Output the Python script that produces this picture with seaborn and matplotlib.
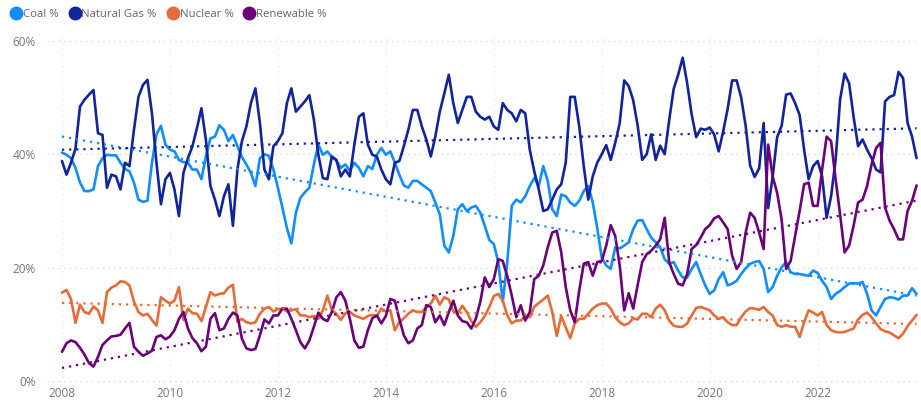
import numpy as np
import pandas as pd
import matplotlib
matplotlib.use("Agg")
import matplotlib.pyplot as plt
from matplotlib.lines import Line2D
import seaborn as sns

# ---- data (monthly, Jan 2008 .. Nov 2023), percent ----
series_names = ["Coal %", "Natural Gas %", "Nuclear %", "Renewable %"]
start_year = 2008

coal = [
    40.3, 39.9, 39.3, 37.6, 35.0, 33.5, 33.5, 33.8, 37.9, 39.3, 39.9, 39.8, 39.8, 38.5, 37.4, 37.0, 35.0, 32.0, 31.6, 31.8,
    38.5, 43.5, 45.0, 41.7, 40.8, 40.5, 39.0, 38.6, 38.5, 37.3, 37.3, 35.6, 39.6, 42.8, 43.1, 45.1, 44.3, 42.3, 43.4, 41.4,
    39.5, 38.2, 36.7, 34.4, 39.3, 40.0, 39.7, 37.3, 34.1, 30.6, 27.0, 24.3, 29.7, 32.3, 33.3, 34.1, 38.2, 41.7, 39.9, 40.5,
    39.5, 38.9, 37.6, 38.2, 37.1, 38.5, 37.6, 36.1, 37.9, 37.4, 39.9, 41.1, 39.9, 40.5, 38.5, 36.4, 34.5, 34.1, 35.3, 35.3,
    34.7, 34.1, 33.5, 31.5, 29.4, 23.9, 22.7, 25.6, 30.3, 31.2, 30.0, 30.6, 30.9, 29.7, 27.4, 24.9, 24.2, 21.0, 14.0, 21.0,
    30.9, 32.0, 31.5, 32.6, 34.4, 35.8, 34.4, 37.9, 35.3, 30.3, 29.1, 32.9, 32.6, 31.5, 30.9, 31.8, 33.5, 34.4, 31.5, 27.0,
    21.8, 20.4, 19.8, 23.6, 23.4, 23.9, 24.5, 26.8, 28.3, 28.4, 26.8, 25.3, 24.5, 23.6, 21.5, 20.7, 21.0, 19.5, 18.3, 18.3,
    19.8, 21.0, 18.9, 16.9, 15.4, 16.0, 18.0, 19.2, 16.9, 17.2, 17.7, 18.9, 19.9, 20.7, 21.0, 21.2, 19.8, 15.7, 16.6, 18.6,
    20.1, 21.0, 19.2, 18.9, 18.9, 18.7, 18.6, 19.5, 19.1, 17.7, 16.6, 14.5, 15.4, 15.9, 16.6, 17.2, 17.3, 17.2, 17.5, 15.4,
    12.5, 11.6, 13.1, 14.5, 14.8, 14.7, 14.4, 15.1, 15.1, 16.4, 15.4,
]

natural_gas = [
    38.8, 36.4, 38.5, 41.0, 48.4, 49.6, 50.5, 51.3, 43.7, 43.4, 34.1, 36.4, 36.1, 33.8, 38.5, 37.9, 44.3, 50.1, 52.2, 53.1,
    47.2, 38.5, 31.2, 35.6, 36.7, 33.8, 29.1, 36.7, 39.3, 41.4, 44.6, 48.1, 42.5, 34.4, 32.0, 29.1, 32.6, 34.7, 27.4, 37.3,
    42.3, 44.9, 49.0, 51.6, 45.5, 37.3, 35.6, 41.4, 42.3, 43.7, 49.0, 51.6, 47.5, 48.4, 49.3, 50.4, 46.1, 39.9, 35.8, 35.6,
    39.6, 39.0, 36.1, 37.3, 36.1, 41.7, 46.6, 47.2, 41.7, 39.9, 39.6, 37.3, 35.6, 34.7, 38.5, 38.8, 41.4, 44.3, 47.8, 47.8,
    44.9, 42.6, 39.6, 43.1, 47.5, 50.7, 54.0, 49.0, 45.5, 47.8, 50.1, 50.1, 47.5, 46.6, 46.1, 46.6, 44.9, 44.3, 49.0, 47.8,
    47.2, 45.8, 47.8, 47.2, 40.8, 37.0, 33.8, 30.0, 30.3, 32.0, 33.8, 34.7, 38.5, 50.1, 50.1, 44.9, 37.9, 32.0, 36.1, 38.5,
    40.0, 41.6, 39.0, 42.0, 45.5, 53.0, 52.0, 49.5, 45.0, 39.0, 40.0, 43.5, 39.0, 41.5, 40.0, 46.0, 51.5, 54.0, 57.0, 52.5,
    47.0, 43.0, 44.5, 44.3, 44.7, 43.5, 40.5, 44.0, 48.0, 53.0, 53.0, 50.0, 45.0, 38.0, 36.0, 37.5, 45.5, 30.5, 36.0, 43.0,
    45.0, 50.5, 50.7, 49.0, 46.9, 40.8, 35.6, 37.9, 38.8, 36.1, 28.8, 32.6, 39.0, 49.6, 54.2, 52.5, 46.6, 41.4, 42.6, 40.8,
    39.3, 37.3, 36.8, 49.3, 50.1, 50.4, 54.5, 53.4, 45.5, 43.1, 39.3,
]

nuclear = [
    15.6, 16.1, 14.5, 10.3, 13.5, 12.2, 11.9, 13.2, 12.5, 10.3, 15.7, 16.5, 16.9, 17.6, 17.5, 16.9, 14.0, 12.2, 11.6, 11.9,
    10.8, 9.8, 14.8, 14.2, 13.7, 14.2, 16.6, 10.8, 12.8, 12.0, 11.9, 10.6, 13.1, 15.7, 15.1, 15.4, 15.5, 16.5, 17.0, 10.5,
    11.0, 10.4, 10.2, 10.4, 11.9, 12.8, 13.1, 12.3, 12.7, 12.8, 12.3, 12.5, 12.7, 11.6, 11.6, 11.3, 11.5, 11.0, 12.5, 15.1,
    12.5, 11.9, 10.8, 12.0, 12.2, 11.6, 11.3, 11.0, 11.5, 11.7, 11.5, 12.8, 12.3, 12.5, 9.0, 10.4, 11.1, 11.9, 12.5, 12.2,
    12.2, 13.1, 13.7, 15.1, 13.5, 14.8, 14.4, 12.3, 12.0, 13.3, 12.2, 10.6, 9.6, 10.4, 11.5, 13.1, 15.0, 15.4, 14.2, 11.6,
    10.2, 10.7, 10.7, 11.5, 11.3, 13.1, 13.8, 14.4, 15.1, 12.2, 8.0, 11.5, 9.5, 7.6, 10.2, 11.0, 11.0, 11.9, 12.8, 13.4,
    13.7, 13.7, 12.8, 11.3, 10.4, 9.9, 10.2, 11.1, 10.9, 11.9, 11.9, 11.3, 12.8, 13.5, 12.5, 10.7, 9.8, 9.6, 9.6, 10.2,
    11.6, 12.9, 13.1, 12.8, 12.5, 11.6, 11.0, 11.3, 10.4, 9.9, 9.9, 11.3, 12.3, 12.9, 12.8, 12.6, 13.1, 12.2, 11.6, 9.9,
    9.6, 9.9, 9.6, 9.6, 7.8, 10.4, 12.5, 12.1, 11.6, 12.2, 9.9, 9.0, 8.7, 8.6, 8.7, 9.0, 9.3, 10.9, 11.7, 12.1,
    11.3, 10.2, 9.2, 8.8, 8.6, 8.1, 7.6, 8.4, 9.7, 10.7, 11.7,
]

renewable = [
    5.2, 6.7, 7.2, 6.9, 5.9, 4.7, 3.2, 2.6, 4.3, 6.4, 7.2, 7.9, 8.0, 8.2, 9.3, 10.3, 6.1, 5.2, 4.5, 4.9,
    5.4, 7.8, 8.1, 7.4, 7.9, 9.0, 11.0, 12.2, 9.3, 7.6, 6.7, 5.3, 6.1, 11.0, 12.0, 9.0, 9.3, 11.0, 12.1, 11.6,
    7.5, 5.8, 5.5, 5.7, 8.1, 10.9, 10.2, 11.6, 11.6, 12.8, 12.8, 11.0, 9.0, 6.9, 5.8, 7.2, 9.6, 12.1, 11.0, 10.6,
    12.2, 14.8, 15.7, 14.2, 11.0, 7.2, 5.9, 6.1, 9.0, 11.1, 11.6, 10.2, 11.5, 14.5, 14.2, 11.0, 8.1, 6.7, 7.2, 9.3,
    9.9, 13.4, 13.1, 10.4, 11.6, 9.9, 12.2, 14.2, 11.6, 10.6, 10.4, 9.3, 11.0, 14.0, 18.3, 16.6, 18.0, 21.5, 21.2, 18.5,
    15.1, 11.3, 13.4, 10.7, 12.2, 18.0, 18.6, 20.4, 23.6, 26.2, 26.5, 22.7, 16.6, 12.5, 10.4, 16.0, 20.7, 21.0, 18.6, 21.0,
    21.2, 23.9, 27.5, 25.6, 20.4, 12.5, 15.5, 12.8, 17.0, 21.0, 22.4, 23.0, 23.9, 25.0, 28.8, 21.0, 18.9, 17.2, 16.9, 18.9,
    23.3, 24.0, 25.3, 26.8, 27.5, 28.7, 29.1, 28.0, 26.8, 22.1, 19.8, 21.0, 26.2, 29.7, 28.8, 26.2, 23.3, 41.7, 36.1, 33.2,
    28.5, 19.8, 21.2, 25.6, 30.0, 34.7, 35.0, 30.9, 30.9, 37.3, 43.1, 42.3, 35.6, 29.4, 22.7, 23.9, 27.4, 31.5, 32.0, 34.4,
    38.2, 41.1, 42.0, 30.6, 28.3, 26.8, 25.0, 25.0, 30.0, 31.8, 34.5,
]

x_ticks = [2008, 2010, 2012, 2014, 2016, 2018, 2020, 2022]
y_ticks = [0, 20, 40, 60]
y_tick_labels = ["0%", "20%", "40%", "60%"]

colors = {"Coal %": "#118DFF", "Natural Gas %": "#12239E",
          "Nuclear %": "#E66C37", "Renewable %": "#6B007B"}

# ---- build long-form table ----
values = {"Coal %": coal, "Natural Gas %": natural_gas,
          "Nuclear %": nuclear, "Renewable %": renewable}
frames = []
for name in series_names:
    v = values[name]
    yr = start_year + np.arange(len(v)) / 12.0
    frames.append(pd.DataFrame({"year": yr, "value": v, "series": name}))
df = pd.concat(frames, ignore_index=True)

sns.set_theme(style="white")
plt.rcParams["font.family"] = ["Open Sans", "DejaVu Sans"]

fig = plt.figure(figsize=(9.21, 4.05), dpi=100)
ax = fig.add_axes([47 / 921, (405 - 383) / 405, (918 - 47) / 921, (383 - 35) / 405])

sns.lineplot(data=df, x="year", y="value", hue="series", hue_order=series_names,
             palette=colors, linewidth=1.9, ax=ax, legend=False, zorder=3)

for name in series_names:
    sub = df[df["series"] == name]
    sns.regplot(data=sub, x="year", y="value", scatter=False, ci=None, ax=ax,
                line_kws=dict(color=colors[name], linestyle=(0, (1, 2.2)),
                              linewidth=1.6, zorder=4))

ax.set_xlim(2007.722, 2023.86)
ax.set_ylim(-0.3, 61)
ax.set_xticks(x_ticks)
ax.set_xticklabels([str(t) for t in x_ticks])
ax.set_yticks(y_ticks)
ax.set_yticklabels(y_tick_labels)
ax.set_xlabel("")
ax.set_ylabel("")
for s in ax.spines.values():
    s.set_visible(False)
ax.tick_params(axis="both", length=0, colors="#777777", labelsize=8.5)
ax.tick_params(axis="y", pad=8)
ax.tick_params(axis="x", pad=3)
ax.grid(True, axis="y", color="#D8D8D8", linestyle=(0, (1, 3)), linewidth=1.0)
ax.grid(True, axis="x", color="#E6E6E6", linestyle=(0, (1, 3)), linewidth=1.0)
ax.set_axisbelow(True)

handles = [Line2D([0], [0], marker="o", color="none", markerfacecolor=colors[n],
                  markeredgecolor=colors[n], markersize=9) for n in series_names]
leg = fig.legend(handles, series_names, loc="upper left", bbox_to_anchor=(0.004, 0.995),
                 ncol=4, frameon=False, fontsize=8.2, handletextpad=0.1,
                 columnspacing=0.9, handlelength=1.0, borderaxespad=0.2)
for t in leg.get_texts():
    t.set_color("#666666")

fig.savefig("out.png", dpi=100, facecolor="white")
